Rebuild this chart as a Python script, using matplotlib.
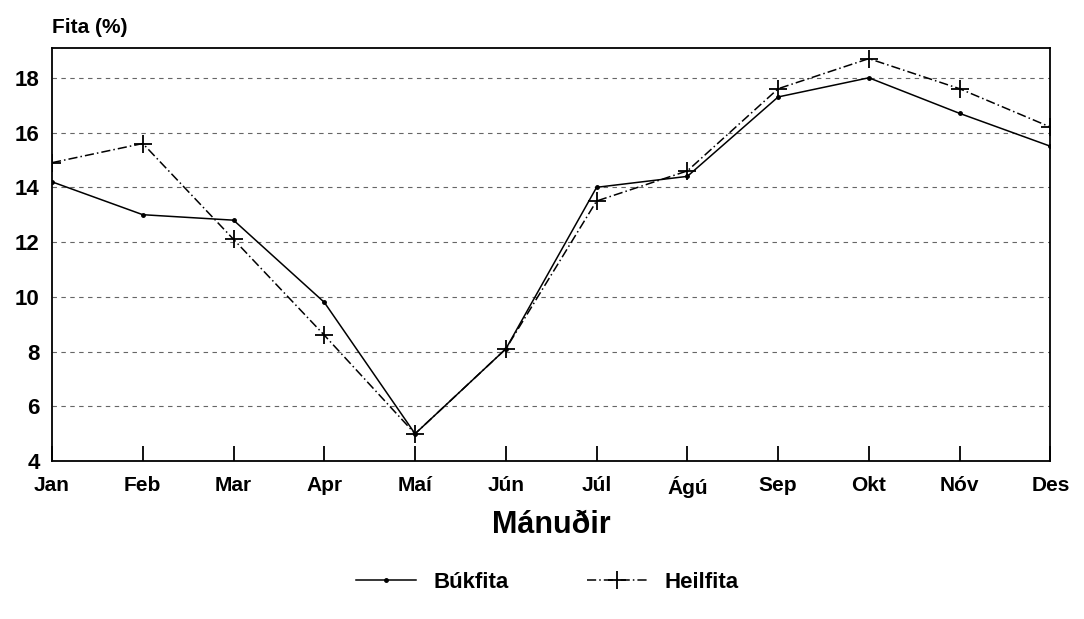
import matplotlib
matplotlib.use("Agg")
import matplotlib.pyplot as plt

plt.rcParams['font.family'] = ['Liberation Sans', 'DejaVu Sans']
plt.rcParams['font.weight'] = 'bold'

months = ['Jan', 'Feb', 'Mar', 'Apr', 'Maí', 'Jún', 'Júl', 'Ágú', 'Sep', 'Okt', 'Nóv', 'Des']
bukfita = [14.2, 13.0, 12.8, 9.8, 5.0, 8.1, 14.0, 14.4, 17.3, 18.0, 16.7, 15.5]
heilfita = [14.9, 15.6, 12.1, 8.6, 5.0, 8.1, 13.5, 14.6, 17.6, 18.7, 17.6, 16.2]
yticks = [4, 6, 8, 10, 12, 14, 16, 18]

fig = plt.figure(figsize=(10.84, 6.19), dpi=100)
ax = fig.add_axes([0.048, 0.255, 0.921, 0.668])

x = range(len(months))
ax.plot(x, bukfita, color='black', lw=1.1, marker='.', ms=5, label='Búkfita')
ax.plot(x, heilfita, color='black', lw=1.1, ls=(0, (6, 2, 1, 2)), marker='+', ms=13, mew=1.3, label='Heilfita')

ax.set_xlim(0, 11)
ax.set_ylim(4, 19.1)
ax.set_xticks(list(x))
ax.set_xticklabels(months)
ax.set_yticks(yticks)
ax.tick_params(axis='x', direction='in', length=11, labelsize=15, width=1.3, pad=11)
ax.tick_params(axis='y', direction='in', length=0, labelsize=16, pad=9)
ax.grid(axis='y', color='#666666', ls=(0, (4, 4)), lw=0.8)
for s in ax.spines.values():
    s.set_linewidth(1.3)

ax.set_xlabel('Mánuðir', fontsize=22, fontweight='bold', labelpad=8)
ax.text(0.0, 1.025, 'Fita (%)', transform=ax.transAxes, fontsize=15, ha='left', va='bottom')

fig.legend(loc='lower center', bbox_to_anchor=(0.505, 0.01), ncol=2, frameon=False,
           fontsize=16, handlelength=2.7, columnspacing=3.5)

fig.savefig('out.png', dpi=100)
